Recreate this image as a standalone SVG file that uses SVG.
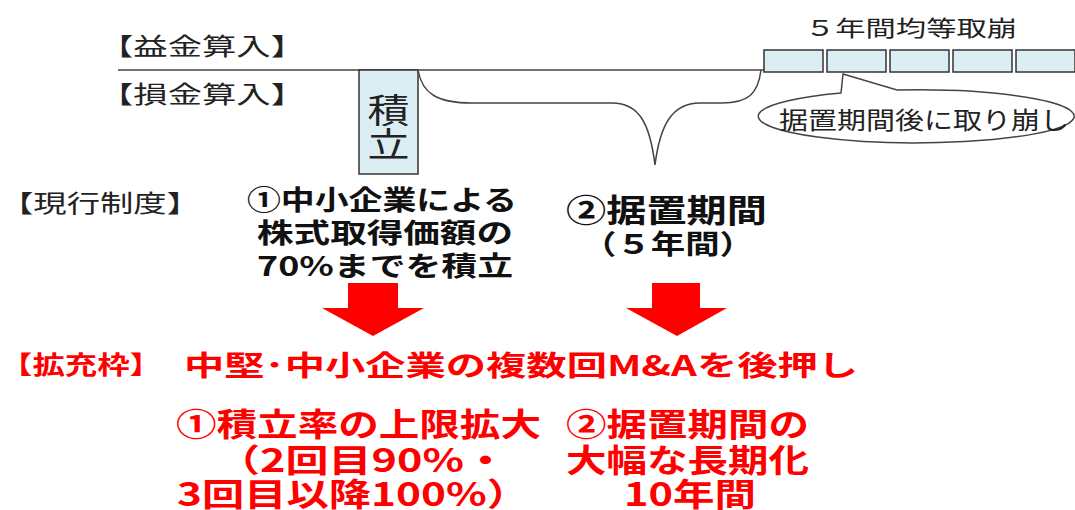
<svg xmlns="http://www.w3.org/2000/svg" width="1075" height="510" viewBox="0 0 1075 510">
<style>
text{font-family:"Noto Sans CJK JP","Liberation Sans",sans-serif}
.lbl{fill:#222;font-size:24px}
.blk{font-weight:bold;fill:#111;font-size:27px}
.red{font-weight:bold;fill:#ff0000;font-size:32px}
.box{fill:#dbeef3;stroke:#333;stroke-width:1.5}
.ln{fill:none;stroke:#444;stroke-width:1.5}
.arr{fill:#ff0000}
</style>
<rect width="1075" height="510" fill="#fff"/>
<g id="axis">
<line class="ln" x1="118" y1="70" x2="764" y2="70"/>
<text class="lbl" x="99" y="55" textLength="206" lengthAdjust="spacingAndGlyphs">【益金算入】</text>
<text class="lbl" x="99" y="103" textLength="206" lengthAdjust="spacingAndGlyphs">【損金算入】</text>
</g>
<g id="tsumitate">
<rect class="box" x="359" y="70" width="59" height="104"/>
<text class="lbl" x="388.5" y="123" text-anchor="middle" textLength="42" lengthAdjust="spacingAndGlyphs" style="font-size:34px">積</text>
<text class="lbl" x="388.5" y="157" text-anchor="middle" textLength="42" lengthAdjust="spacingAndGlyphs" style="font-size:34px">立</text>
</g>
<g id="torikuzushi">
<text class="lbl" x="805" y="36" textLength="212" lengthAdjust="spacingAndGlyphs" style="font-size:22px">５年間均等取崩</text>
<rect class="box" x="764" y="50" width="59" height="22"/>
<rect class="box" x="827" y="50" width="59" height="22"/>
<rect class="box" x="890" y="50" width="59" height="22"/>
<rect class="box" x="953" y="50" width="59" height="22"/>
<rect class="box" x="1016" y="50" width="59" height="22"/>
</g>
<g id="callout">
<path class="ln" style="fill:#fff" d="M841,93 L843,74 L897,90 A158,26.5 0 1 1 841,93 Z"/>
<text class="lbl" x="779" y="129" textLength="290" lengthAdjust="spacingAndGlyphs">据置期間後に取り崩し</text>
</g>
<g id="connectors">
<path class="ln" d="M418,70 C422,94 438,103 472,103 L612,103 C640,103 650,125 655,165 C660,125 672,103 700,103 L722,103 C748,103 758,94 761,70"/>
<path class="arr" d="M348,283 L398,283 L398,308 L424,308 L373,336 L322,308 L348,308 Z"/>
<path class="arr" d="M652,283 L700,283 L700,308 L727,308 L677,336 L626,308 L652,308 Z"/>
</g>
<g id="current">
<text class="lbl" x="0" y="212" textLength="200" lengthAdjust="spacingAndGlyphs">【現行制度】</text>
<text class="blk" x="247" y="210" textLength="270" lengthAdjust="spacingAndGlyphs">①中小企業による</text>
<text class="blk" x="257" y="243" textLength="256" lengthAdjust="spacingAndGlyphs">株式取得価額の</text>
<text class="blk" x="257" y="276" textLength="256" lengthAdjust="spacingAndGlyphs">70%までを積立</text>
<text class="blk" x="566" y="222" textLength="201" lengthAdjust="spacingAndGlyphs" style="font-size:32px">②据置期間</text>
<text class="blk" x="582" y="254" textLength="172" lengthAdjust="spacingAndGlyphs">（５年間）</text>
</g>
<g id="expand">
<text class="red" x="0" y="374" textLength="162" lengthAdjust="spacingAndGlyphs" style="font-size:25px">【拡充枠】</text>
<text class="red" x="184" y="376" textLength="674" lengthAdjust="spacingAndGlyphs" style="font-size:28px">中堅･中小企業の複数回M&amp;Aを後押し</text>
<text class="red" x="176" y="436" textLength="365" lengthAdjust="spacingAndGlyphs">①積立率の上限拡大</text>
<text class="red" x="217" y="472" textLength="290" lengthAdjust="spacingAndGlyphs">（2回目90%・</text>
<text class="red" x="177" y="506" textLength="352" lengthAdjust="spacingAndGlyphs">3回目以降100%）</text>
<text class="red" x="566" y="436" textLength="243" lengthAdjust="spacingAndGlyphs">②据置期間の</text>
<text class="red" x="566" y="472" textLength="243" lengthAdjust="spacingAndGlyphs">大幅な長期化</text>
<text class="red" x="624" y="506" textLength="132" lengthAdjust="spacingAndGlyphs">10年間</text>
</g>
</svg>
